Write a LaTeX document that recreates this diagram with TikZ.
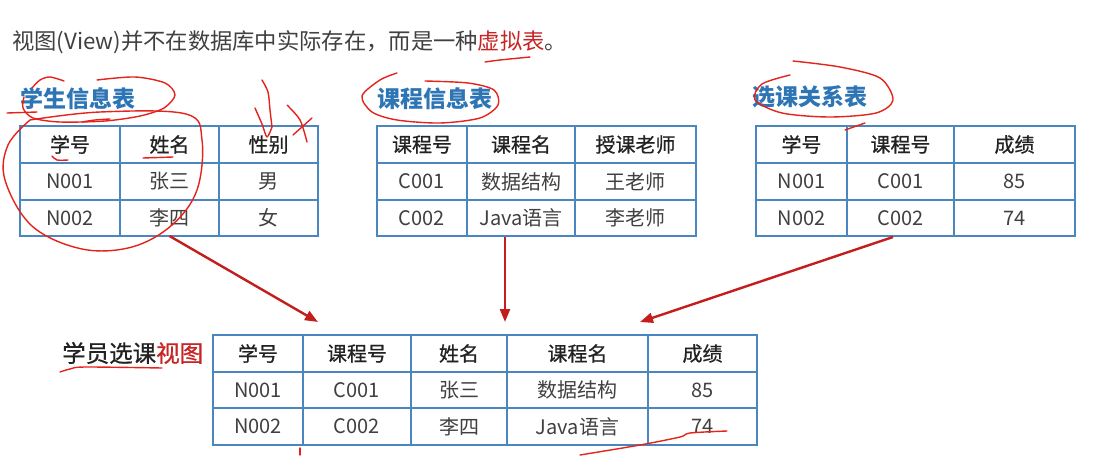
\documentclass[tikz,border=0pt]{standalone}
\usepackage{fontspec}
\setmainfont{Noto Sans CJK SC}
\newfontfamily\medfont{Noto Sans CJK SC}[FakeBold=0.7]
\usetikzlibrary{arrows.meta}
\definecolor{tblue}{RGB}{74,134,192}
\definecolor{ttitle}{RGB}{46,117,182}
\definecolor{tgray}{RGB}{64,64,64}
\definecolor{hgray}{RGB}{34,34,34}
\definecolor{annored}{RGB}{228,36,28}
\definecolor{arrred}{RGB}{196,30,28}
\definecolor{redtxt}{RGB}{200,36,36}
\newcommand\tcell[7]{\node[#7,minimum width={#3-#2},minimum height={#5-#4}] (#1) at ({(#2+#3)/2},{(#4+#5)/2}) {#6};}
\tikzset{
  cell/.style={draw=tblue, line width=1.3pt, inner sep=0pt, outer sep=0pt, text=tgray, font=\fontsize{20}{20}\selectfont},
  hcell/.style={cell, text=hgray, font=\fontsize{20}{20}\medfont},
  title/.style={anchor=west, inner sep=0pt, text=ttitle, font=\fontsize{23}{23}\selectfont\bfseries},
  anno/.style={draw=annored, line width=1.4pt, line cap=round, line join=round},
  flow/.style={draw=arrred, line width=2.4pt, -{Triangle[length=13pt,width=10pt]}},
}
\begin{document}
\begin{tikzpicture}[x=1pt,y=-1pt]
\useasboundingbox[fill=white] (0,0) rectangle (1107,455);

\node[anchor=west, inner sep=0pt, text=tgray, font=\fontsize{22.3}{23}\selectfont] (intro) at (12,42) {视图(View)并不在数据库中实际存在，而是一种{\color{redtxt}虚拟表}。};

% titles
\node[title] (t1title) at (20,99) {学生信息表};
\node[title] (t2title) at (377,99) {课程信息表};
\node[title] (t3title) at (752,97) {选课关系表};
\node[anchor=west, inner sep=0pt, text=hgray, font=\fontsize{23.5}{24}\medfont] (vlabel) at (62,353) {学员选课{\color{redtxt}视图}};

% table 1
\tcell{a11}{20}{120}{126}{163}{学号}{hcell}
\tcell{a12}{120}{219}{126}{163}{姓名}{hcell}
\tcell{a13}{219}{318}{126}{163}{性别}{hcell}
\tcell{a21}{20}{120}{163}{200}{N001}{cell}
\tcell{a22}{120}{219}{163}{200}{张三}{cell}
\tcell{a23}{219}{318}{163}{200}{男}{cell}
\tcell{a31}{20}{120}{200}{236}{N002}{cell}
\tcell{a32}{120}{219}{200}{236}{李四}{cell}
\tcell{a33}{219}{318}{200}{236}{女}{cell}

% table 2
\tcell{b11}{377}{467}{126}{163}{课程号}{hcell}
\tcell{b12}{467}{575}{126}{163}{课程名}{hcell}
\tcell{b13}{575}{696}{126}{163}{授课老师}{hcell}
\tcell{b21}{377}{467}{163}{200}{C001}{cell}
\tcell{b22}{467}{575}{163}{200}{数据结构}{cell}
\tcell{b23}{575}{696}{163}{200}{王老师}{cell}
\tcell{b31}{377}{467}{200}{236}{C002}{cell}
\tcell{b32}{467}{575}{200}{236}{Java语言}{cell}
\tcell{b33}{575}{696}{200}{236}{李老师}{cell}

% table 3
\tcell{c11}{756}{847}{126}{163}{学号}{hcell}
\tcell{c12}{847}{954}{126}{163}{课程号}{hcell}
\tcell{c13}{954}{1075}{126}{163}{成绩}{hcell}
\tcell{c21}{756}{847}{163}{200}{N001}{cell}
\tcell{c22}{847}{954}{163}{200}{C001}{cell}
\tcell{c23}{954}{1075}{163}{200}{85}{cell}
\tcell{c31}{756}{847}{200}{236}{N002}{cell}
\tcell{c32}{847}{954}{200}{236}{C002}{cell}
\tcell{c33}{954}{1075}{200}{236}{74}{cell}

% view table
\tcell{d11}{213}{303}{335}{372}{学号}{hcell}
\tcell{d12}{303}{411}{335}{372}{课程号}{hcell}
\tcell{d13}{411}{507}{335}{372}{姓名}{hcell}
\tcell{d14}{507}{648}{335}{372}{课程名}{hcell}
\tcell{d15}{648}{757}{335}{372}{成绩}{hcell}
\tcell{d21}{213}{303}{372}{408}{N001}{cell}
\tcell{d22}{303}{411}{372}{408}{C001}{cell}
\tcell{d23}{411}{507}{372}{408}{张三}{cell}
\tcell{d24}{507}{648}{372}{408}{数据结构}{cell}
\tcell{d25}{648}{757}{372}{408}{85}{cell}
\tcell{d31}{213}{303}{408}{445}{N002}{cell}
\tcell{d32}{303}{411}{408}{445}{C002}{cell}
\tcell{d33}{411}{507}{408}{445}{李四}{cell}
\tcell{d34}{507}{648}{408}{445}{Java语言}{cell}
\tcell{d35}{648}{757}{408}{445}{74}{cell}

% flow arrows
\coordinate (s2) at (505,237);
\coordinate (s3) at (893,237);
\coordinate (e1) at (318,322);
\coordinate (e2) at (505,322);
\coordinate (e3) at (640,322);
\draw[flow] (a32.south) -- (e1);
\draw[flow] (s2) -- (e2);
\draw[flow] (s3) -- (e3);

% hand annotations
\draw[anno] plot[smooth] coordinates {(32,88) (40,80) (50,77) (64,81)};
\draw[anno] plot[smooth] coordinates {(97,80) (135,77) (165,83) (175,95) (164,108) (140,116) (105,121) (60,122) (33,118) (23,108) (24,97)};
\draw[anno] (7,113) -- (37,112);
\draw[anno] plot[smooth] coordinates {(82,122) (95,120) (110,119)};
\draw[anno] plot[smooth, tension=0.6] coordinates {(30,120) (100,112) (186,114) (202,140) (197,190) (172,225) (132,247) (82,249) (32,226) (5,180) (8,145) (30,120)};
\draw[anno] plot[smooth] coordinates {(52,156) (57,160) (68,160)};
\draw[anno] (143,158) -- (173,157);
\draw[anno] plot[smooth] coordinates {(262,80) (268,92) (270,110) (272,127)};
\draw[anno] plot[smooth] coordinates {(255,108) (262,124) (267,137) (272,127)};
\draw[anno] plot[smooth] coordinates {(287,105) (300,120) (307,142)};
\draw[anno] (293,135) -- (312,118);
\draw[anno] plot[smooth] coordinates {(397,73) (380,80) (362,96) (372,112) (397,120) (440,123) (480,118) (498,105) (494,90) (468,83) (425,81)};
\draw[anno] plot[smooth] coordinates {(793,61) (840,67) (880,78) (893,100) (876,113) (830,117) (782,113) (755,100) (762,84) (790,75)};
\draw[anno] (845,130) -- (865,123);
\draw[anno] plot[smooth] coordinates {(485,62) (500,60) (530,57)};
\draw[anno] plot[smooth] coordinates {(60,372) (70,369) (85,367) (162,368)};
\draw[anno] (300,448) -- (300,455);
\draw[anno] plot[smooth] coordinates {(580,455) (640,445) (680,437) (690,433) (727,431)};
\end{tikzpicture}
\end{document}
